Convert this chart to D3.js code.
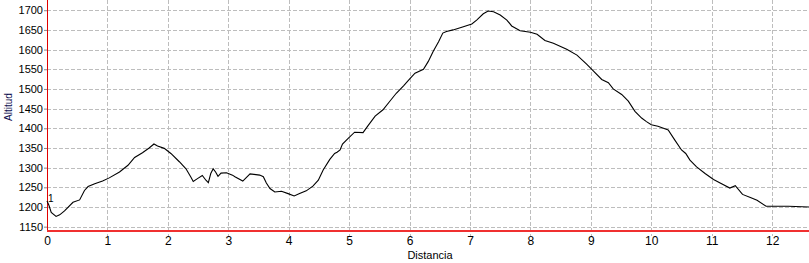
<!DOCTYPE html>
<html>
<head>
<meta charset="utf-8">
<script src="https://cdn.jsdelivr.net/npm/d3@7"></script>
<style>
  html, body { margin: 0; padding: 0; background: #fff; }
  svg { display: block; font-family: "Liberation Sans", Arial, sans-serif; }
</style>
</head>
<body>
<div id="chart"></div>
<script>
// distance (km) and altitude (m)
const distancia = [0, 0.03, 0.07, 0.15, 0.21, 0.29, 0.43, 0.54, 0.62, 0.68, 0.79, 0.92, 1.03, 1.20, 1.34, 1.45, 1.58, 1.69, 1.77, 1.83, 1.94,
  2.05, 2.19, 2.30, 2.38, 2.42, 2.49, 2.57, 2.63, 2.67, 2.71, 2.75, 2.79, 2.83, 2.88, 2.97, 3.07, 3.11, 3.24, 3.36, 3.52, 3.58, 3.63,
  3.69, 3.77, 3.88, 3.99, 4.09, 4.18, 4.29, 4.40, 4.49, 4.57, 4.68, 4.76, 4.80, 4.85, 4.89, 4.98, 5.09, 5.23, 5.31, 5.43, 5.56, 5.67,
  5.78, 5.90, 6.01, 6.09, 6.23, 6.31, 6.39, 6.48, 6.55, 6.61, 6.72, 6.89, 7.03, 7.11, 7.22, 7.30, 7.39, 7.50, 7.61, 7.69, 7.83, 8.00,
  8.11, 8.24, 8.38, 8.60, 8.77, 8.93, 9.04, 9.18, 9.29, 9.37, 9.51, 9.62, 9.73, 9.84, 9.92, 10.00, 10.11, 10.28, 10.39, 10.50, 10.57,
  10.64, 10.75, 10.89, 11.03, 11.14, 11.30, 11.39, 11.51, 11.64, 11.75, 11.90, 12.02, 12.27, 12.61];
const altitud = [1215, 1205, 1186, 1176, 1180, 1190, 1212, 1218, 1242, 1252, 1259, 1266, 1274, 1289, 1306, 1326, 1338, 1350, 1360, 1355, 1349,
  1336, 1315, 1297, 1276, 1265, 1272, 1280, 1268, 1262, 1285, 1297, 1289, 1278, 1286, 1287, 1281, 1277, 1266, 1284, 1281, 1277, 1261,
  1247, 1238, 1240, 1234, 1228, 1234, 1241, 1253, 1268, 1294, 1321, 1336, 1339, 1345, 1360, 1374, 1390, 1389, 1406, 1431, 1447, 1468,
  1489, 1508, 1527, 1540, 1550, 1570, 1595, 1620, 1642, 1646, 1650, 1658, 1665, 1675, 1691, 1698, 1696, 1688, 1675, 1660, 1648, 1644,
  1639, 1623, 1616, 1601, 1586, 1563, 1546, 1524, 1516, 1500, 1486, 1469, 1443, 1426, 1417, 1409, 1405, 1396, 1370, 1345, 1336,
  1319, 1302, 1285, 1270, 1261, 1248, 1254, 1232, 1224, 1217, 1202, 1202, 1202, 1200];

const yTicks = [1150, 1200, 1250, 1300, 1350, 1400, 1450, 1500, 1550, 1600, 1650, 1700];
const xTicks = [0, 1, 2, 3, 4, 5, 6, 7, 8, 9, 10, 11, 12];

const width = 809, height = 263;
const plotLeft = 47, plotRight = 809, plotTop = 0, plotBottom = 231;

const svg = d3.select('#chart').append('svg')
    .attr('width', width)
    .attr('height', height);

const x = d3.scaleLinear().domain([0, 12.61]).range([plotLeft, plotRight]);
const y = d3.scaleLinear().domain([1139, 1726]).range([plotBottom, plotTop]);

// grid
svg.append('g').selectAll('line.hgrid')
    .data(yTicks)
    .join('line')
    .attr('x1', plotLeft).attr('x2', plotRight)
    .attr('y1', d => Math.round(y(d)) + 0.5).attr('y2', d => Math.round(y(d)) + 0.5)
    .attr('stroke', '#bdbdbd')
    .attr('stroke-dasharray', '4,2');

svg.append('g').selectAll('line.vgrid')
    .data(xTicks.slice(1))
    .join('line')
    .attr('x1', d => Math.round(x(d)) + 0.5).attr('x2', d => Math.round(x(d)) + 0.5)
    .attr('y1', plotTop).attr('y2', plotBottom + 5)
    .attr('stroke', '#bdbdbd')
    .attr('stroke-dasharray', '4,2');

// y axis
const yAxis = svg.append('g')
    .attr('transform', `translate(${plotLeft},0)`)
    .call(d3.axisLeft(y).tickValues(yTicks).tickFormat(d3.format('d'))
        .tickSize(3).tickSizeOuter(0).tickPadding(1));
yAxis.select('.domain').remove();
yAxis.selectAll('.tick line').attr('stroke', '#888');
yAxis.selectAll('.tick text')
    .attr('font-size', 11)
    .attr('font-family', '"Liberation Sans", Arial, sans-serif')
    .attr('fill', '#000');

// x axis
const xAxis = svg.append('g')
    .attr('transform', `translate(0,${plotBottom})`)
    .call(d3.axisBottom(x).tickValues(xTicks).tickSize(0).tickPadding(5));
xAxis.select('.domain').remove();
xAxis.selectAll('.tick text')
    .attr('font-size', 12)
    .attr('font-family', '"Liberation Sans", Arial, sans-serif')
    .attr('fill', '#000');

// red axis lines
svg.append('line')
    .attr('x1', plotLeft + 0.5).attr('x2', plotLeft + 0.5)
    .attr('y1', plotTop).attr('y2', plotBottom)
    .attr('stroke', '#e00000');
svg.append('line')
    .attr('x1', plotLeft).attr('x2', plotRight)
    .attr('y1', plotBottom).attr('y2', plotBottom)
    .attr('stroke', '#f03030')
    .attr('stroke-width', 2);

// profile line
const line = d3.line()
    .x((d, i) => x(distancia[i]))
    .y(d => y(d));

svg.append('path')
    .datum(altitud)
    .attr('fill', 'none')
    .attr('stroke', '#000')
    .attr('stroke-width', 1.1)
    .attr('d', line);

// waypoint marker
svg.append('text')
    .attr('x', x(distancia[0]) + 1)
    .attr('y', 202)
    .attr('font-size', 10)
    .attr('fill', '#000')
    .text('1');

// axis titles
svg.append('text')
    .attr('x', (plotLeft + plotRight) / 2 + 2)
    .attr('y', 259)
    .attr('text-anchor', 'middle')
    .attr('font-size', 11)
    .attr('fill', '#000')
    .text('Distancia');

svg.append('text')
    .attr('transform', 'translate(12,107) rotate(-90)')
    .attr('text-anchor', 'middle')
    .attr('font-size', 10)
    .attr('fill', '#101050')
    .text('Altitud');
</script>
</body>
</html>
